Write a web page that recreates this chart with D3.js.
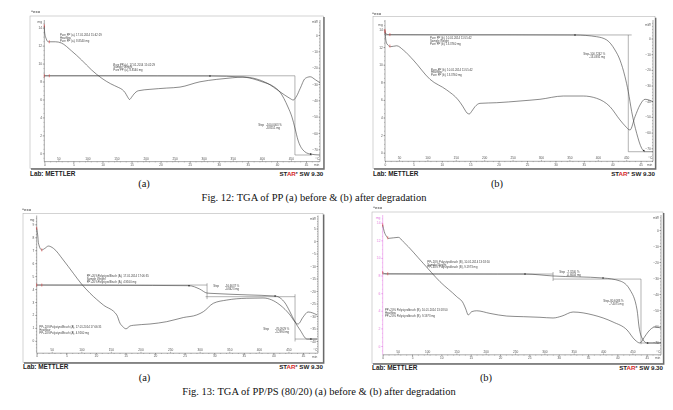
<!DOCTYPE html>
<html>
<head>
<meta charset="utf-8">
<script src="https://cdn.jsdelivr.net/npm/d3@7"></script>
<style>
    body { margin: 0; background: #fff; }
    svg { display: block; }
</style>
</head>
<body>
<div id="chart"></div>
<script>
// shared x tick labels (temperature row and time row)
const tempTicks = [50, 100, 150, 200, 250, 300, 350, 400, 450];
const timeTicks = [0, 5, 10, 15, 20, 25, 30, 35, 40, 45];

// Fig. 12 (a) - pure PP before degradation
const fig12aHeatT = [25.9, 26.6, 29, 32.8, 45, 55, 73, 90, 107, 125, 140, 153, 160, 165, 169, 172.5, 176, 180, 187.5, 207.6, 236.4, 259.2, 293.6, 322.3, 350, 367.5, 390, 408.8, 431.1, 448.3, 454, 460, 466, 474.6, 483.2, 492, 500];
const fig12aHeat = [14.2, 13.4, 12.8, 12.43, 12.43, 12.3, 11.4, 10.4, 9.3, 8.35, 7.75, 7.35, 7.1, 6.75, 6.3, 6.0, 6.25, 6.6, 6.97, 7.13, 7.27, 7.38, 7.97, 8.24, 8.42, 8.5, 8.3, 7.83, 6.86, 6.12, 5.94, 6.4, 7.24, 8.35, 8.53, 8.2, 7.86];
const fig12aTgaT = [25.9, 32, 120, 220, 310.8, 367.5, 401.9, 420, 431.1, 444.9, 451.8, 456.9, 462.1, 470.7, 482.7, 500];
const fig12aTga = [8.64, 8.64, 8.64, 8.63, 8.62, 8.5, 7.94, 7.45, 6.83, 5.16, 4.04, 2.82, 1.48, 0.37, -0.08, -0.19];
const fig12aSteps = [[[25.9, 8.64], [456.9, 8.64]], [[456.9, 8.64], [456.9, -0.19]], [[456.9, -0.19], [486, -0.19]]];
const fig12aMarks = [310.8, 484];

// Fig. 12 (b) - pure PP after degradation
const fig12bHeatT = [25.4, 26.5, 28.5, 35.4, 46, 57.6, 75.2, 104.6, 134, 154.4, 162, 166.2, 170, 173.8, 178, 183.8, 192.6, 222, 263, 298.2, 339.3, 374.5, 398, 421.5, 439.1, 448, 456.7, 465.5, 474.3, 483.1, 497.2];
const fig12bHeat = [13.9, 13.0, 12.4, 12.05, 12.15, 11.67, 10.53, 8.34, 7.13, 5.99, 5.3, 4.85, 4.5, 4.4, 4.7, 5.23, 5.61, 5.68, 5.875, 6.07, 6.44, 6.44, 6.18, 5.23, 3.72, 3.05, 2.58, 4.09, 5.42, 6.07, 5.8];
const fig12bTgaT = [25.4, 27, 32, 120, 240, 359.9, 398, 415.7, 430.3, 439.1, 447.9, 453.7, 459.7, 468.5, 477.3, 483.1, 497.2];
const fig12bTga = [13.7, 13.5, 13.42, 13.4, 13.4, 13.38, 13.18, 12.81, 11.67, 10.53, 8.64, 6.93, 4.66, 2.2, 0.5, 0.11, 0.11];
const fig12bSteps = [[[25.4, 13.38], [459.7, 13.38]], [[453.7, 13.38], [453.7, 0.11]], [[453.7, 0.11], [483.1, 0.11]]];
const fig12bMarks = [359.9, 481];

// Fig. 13 (a) - PP/PS 80/20 before degradation
const fig13aHeatT = [24.6, 26.8, 27.4, 33.1, 38.7, 44.3, 52.7, 69.6, 86.5, 100.7, 114.7, 137.2, 159.9, 165.4, 170, 175.6, 182.3, 187.9, 216.1, 244.3, 272.4, 295, 306.2, 323.1, 345.8, 379.6, 407.1, 435.8, 452.7, 461.2, 466.3, 475, 483.2, 498.4];
const fig13aHeat = [8.69, 7.92, 7.57, 7.02, 7.15, 7.32, 7.15, 6.24, 5.22, 4.37, 3.68, 2.77, 2.0, 1.36, 1.1, 0.93, 1.15, 1.2, 1.3, 1.48, 1.8, 2.0, 2.25, 2.9, 3.15, 3.29, 3.31, 2.77, 2.0, 1.46, 1.3, 1.85, 2.23, 2.0];
const fig13aTgaT = [24.6, 30, 120, 220, 282, 300, 312.5, 322.6, 380, 427.5, 444.4, 452, 461.2, 469.7, 481.5, 498.4];
const fig13aTga = [4.31, 4.31, 4.3, 4.28, 4.26, 4.0, 3.69, 3.66, 3.55, 3.46, 2.92, 2.3, 1.46, 0.84, 0.14, 0.14];
const fig13aSteps = [[[24.6, 4.31], [312.5, 4.31]], [[312.5, 4.45], [312.5, 3.22]], [[310, 3.41], [461.2, 3.41]], [[461.2, 3.6], [461.2, -0.05]], [[461.2, 0.14], [498.4, 0.14]]];
const fig13aMarks = [282, 427.5, 488];

// Fig. 13 (b) - PP/PS 80/20 after degradation
const fig13bHeatT = [24.4, 27, 31.3, 34, 51, 59.5, 93.6, 122.1, 150.6, 161.8, 166, 170.3, 176.1, 184.6, 207.3, 235.8, 264.1, 292.5, 314.8, 330, 348.9, 383, 417.1, 440.9, 454.5, 463, 470, 476.7, 488.6, 498.8];
const fig13bHeat = [13.73, 13.0, 12.41, 12.22, 12.34, 11.84, 9.38, 7.3, 5.6, 4.84, 4.2, 3.52, 3.9, 4.0, 3.7, 3.4, 3.33, 3.26, 3.18, 3.4, 3.86, 3.52, 2.72, 1.82, 0.68, 0.34, 0.95, 1.59, 2.16, 2.04];
const fig13bTgaT = [24.4, 30, 120, 220, 267, 314.8, 400, 429.1, 446.1, 458, 461.4, 466.5, 475, 498.8];
const fig13bTga = [8.32, 8.2, 8.18, 8.17, 8.17, 7.95, 7.72, 7.38, 6.36, 4.09, 2.16, 0.91, 0.34, 0.34];
const fig13bSteps = [[[24.4, 8.17], [314.8, 8.17]], [[314.8, 8.4], [314.8, 7.38]], [[314.8, 7.6], [464.7, 7.6]], [[464.7, 7.6], [464.7, 0.2]], [[464.7, 0.34], [498.8, 0.34]]];
const fig13bMarks = [267, 400, 476];

const SANS = "'Liberation Sans', Arial, sans-serif";
const SERIF = "'Liberation Serif', 'Times New Roman', serif";

const panels = [
    {
        heatT: fig12aHeatT, heat: fig12aHeat, tgaT: fig12aTgaT, tga: fig12aTga, steps: fig12aSteps, marks: fig12aMarks,
        frame: [30, 16, 323.3, 168.3], xL: 44.3, xR: 320, yTop: 20, axisY: 161.6,
        tDom: [25.9, 500], yDom: [0, 14], yRange: [153.3, 27.7], leftStep: 2, leftMinor: 0.5, mgY: 22,
        rDom: [-70, 0], rRange: [149.3, 35], rightStep: 10, rightMinor: 2, mwY: 22,
        exo: [31, 13], lab: 176, sub: { text: '(a)', x: 144, y: 186.5 },
        notes: [
            { x: 60, y: 35, lines: ['Pure PP (a), 17.01.2014 15:42:29', 'Heatflow', 'Pure PP (a), 8.8540 mg'] },
            { x: 113.3, y: 64.5, lines: ['Pure PP (a), 17.01.2014 15:42:29', 'Sample Weight', 'Pure PP (a), 8.8540 mg'] },
            { x: 258.3, y: 125, lines: ['Step'] },
            { x: 266, y: 125, lines: ['-100.0003 %', '-8.8551 mg'] }
        ]
    },
    {
        heatT: fig12bHeatT, heat: fig12bHeat, tgaT: fig12bTgaT, tga: fig12bTga, steps: fig12bSteps, marks: fig12bMarks,
        frame: [373, 16.7, 655, 168.3], xL: 385, xR: 653, yTop: 20, axisY: 161.3,
        tDom: [25.4, 497.2], yDom: [0, 14], yRange: [152.7, 29.5], leftStep: 2, leftMinor: 0.5, mgY: 24.5,
        rDom: [-70, 0], rRange: [148.3, 38.5], rightStep: 10, rightMinor: 2, mwY: 25,
        exo: [372, 15], lab: 176, sub: { text: '(b)', x: 497, y: 186.5 },
        notes: [
            { x: 430, y: 38.3, lines: ['Pure PP (b), 10.01.2014 11:55:42', 'Sample Weight', 'Pure PP (b), 13.3760 mg'] },
            { x: 431, y: 69.5, lines: ['Pure PP (b), 10.01.2014 11:55:42', 'Heatflow', 'Pure PP (b), 13.3760 mg'] },
            { x: 583.3, y: 54.3, lines: ['Step'] },
            { x: 589.3, y: 54.3, lines: ['-100.7242 %', '-13.4931 mg'] }
        ]
    },
    {
        heatT: fig13aHeatT, heat: fig13aHeat, tgaT: fig13aTgaT, tga: fig13aTga, steps: fig13aSteps, marks: fig13aMarks,
        frame: [23, 213.5, 323, 362.3], xL: 36.7, xR: 318, yTop: 215.5, axisY: 353.2,
        tDom: [24.6, 500], yDom: [-1, 9], yRange: [353.8, 224.3], leftStep: 1, leftMinor: 0.25, mgY: 219.5,
        rDom: [-40, 5], rRange: [341, 228.5], rightStep: 5, rightMinor: 1, mwY: 219,
        exo: [22, 210.5], lab: 368.5, sub: { text: '(a)', x: 144.5, y: 380.5 },
        notes: [
            { x: 86.7, y: 276, lines: ['PP+20%PolystyrolBruch (A), 17.01.2014 17:06:35', 'Sample Weight', 'PP+20%PolystyrolBruch (A), 4.9160 mg'] },
            { x: 39.3, y: 327, lines: ['PP+20%PolystyrolBruch (A), 17.01.2014 17:06:35', 'Heatflow', 'PP+20%PolystyrolBruch (A), 4.9160 mg'] },
            { x: 213.3, y: 285.7, lines: ['Step'] },
            { x: 225, y: 285.7, lines: ['-16.6637 %', '-0.8423 mg'] },
            { x: 263.3, y: 329, lines: ['Step'] },
            { x: 275, y: 329, lines: ['-76.0929 %', '-3.2990 mg'] }
        ]
    },
    {
        heatT: fig13bHeatT, heat: fig13bHeat, tgaT: fig13bTgaT, tga: fig13bTga, steps: fig13bSteps, marks: fig13bMarks,
        frame: [372, 212, 663, 363.3], xL: 382.7, xR: 661, yTop: 215, axisY: 354.8,
        tDom: [24.4, 498.8], yDom: [0, 14], yRange: [346, 222.7], leftStep: 2, leftMinor: 0.5, mgY: 217.5,
        rDom: [-70, 0], rRange: [342, 230], rightStep: 10, rightMinor: 2, mwY: 217.5,
        leftColor: '#e070e0',
        exo: [373, 209], lab: 369.5, sub: { text: '(b)', x: 486, y: 380.5 },
        notes: [
            { x: 427.3, y: 261.7, lines: ['PP+20% Polystyrolbruch (B), 10.01.2014 13:18:50', 'Sample Weight', 'PP+20% Polystyrolbruch (B), 9.1973 mg'] },
            { x: 385, y: 310, lines: ['PP+20% Polystyrolbruch (B), 10.01.2014 13:18:50', 'Heatflow', 'PP+20% Polystyrolbruch (B), 9.1973 mg'] },
            { x: 559.3, y: 271.7, lines: ['Step'] },
            { x: 566.7, y: 271.7, lines: ['-7.3240 %', '-0.6604 mg'] },
            { x: 603.3, y: 300.7, lines: ['Step'] },
            { x: 609.3, y: 300.7, lines: ['-80.6083 %', '-7.4075 mg'] }
        ]
    }
];

const captions = [
    { text: 'Fig. 12: TGA of PP (a) before & (b) after degradation', x: 314, y: 200.5 },
    { text: 'Fig. 13: TGA of PP/PS (80/20) (a) before & (b) after degradation', x: 319, y: 394.5 }
];

const svg = d3.select('#chart')
    .append('svg')
    .attr('width', 673)
    .attr('height', 410);

// grey filter keeps tiny labels from getting coloured fringes
svg.append('defs')
    .append('filter')
    .attr('id', 'grey')
    .append('feColorMatrix')
    .attr('type', 'saturate')
    .attr('values', 0);

svg.append('rect').attr('width', 673).attr('height', 410).attr('fill', '#fff');

// value of a curve at temperature t (linear between read points)
function valueAt(ts, vs, t) {
    const i = d3.bisectLeft(ts, t);
    if (i <= 0) return vs[0];
    if (i >= ts.length) return vs[vs.length - 1];
    const f = (t - ts[i - 1]) / (ts[i] - ts[i - 1]);
    return vs[i - 1] + (vs[i] - vs[i - 1]) * f;
}

function styleAxis(g, color) {
    g.select('.domain').remove();
    g.selectAll('line').attr('stroke', color).attr('stroke-width', 0.4);
    g.selectAll('text')
        .attr('font-family', SANS)
        .attr('font-size', 3.2)
        .attr('fill', color);
}

function drawPanel(p) {
    const g = svg.append('g');
    const [fx0, fy0, fx1, fy1] = p.frame;

    // frame with darker right / bottom edge
    g.append('rect')
        .attr('x', fx0).attr('y', fy0)
        .attr('width', fx1 - fx0).attr('height', fy1 - fy0)
        .attr('fill', '#fff')
        .attr('stroke', '#a8a8a8')
        .attr('stroke-width', 0.5);
    g.append('path')
        .attr('d', `M${fx1 + 0.7},${fy0 + 1}V${fy1 + 0.7}H${fx0 + 1}`)
        .attr('fill', 'none')
        .attr('stroke', '#6a6a6a')
        .attr('stroke-width', 1.4);

    const x = d3.scaleLinear().domain(p.tDom).range([p.xL, p.xR]);
    const tm = d3.scaleLinear().domain([0, (p.tDom[1] - p.tDom[0]) / 10]).range([p.xL, p.xR]);
    const y = d3.scaleLinear().domain(p.yDom).range(p.yRange);
    const yr = d3.scaleLinear().domain(p.rDom).range(p.rRange);
    const leftColor = p.leftColor || '#555';

    const grey = g.append('g').attr('filter', 'url(#grey)');
    const leftG = p.leftColor ? g.append('g') : grey;

    // axis lines
    leftG.append('line').attr('x1', p.xL).attr('x2', p.xL).attr('y1', p.yTop).attr('y2', p.axisY)
        .attr('stroke', leftColor).attr('stroke-width', 0.5);
    grey.append('line').attr('x1', p.xR).attr('x2', p.xR).attr('y1', p.yTop).attr('y2', p.axisY)
        .attr('stroke', '#555').attr('stroke-width', 0.5);
    grey.append('line').attr('x1', p.xL).attr('x2', p.xR).attr('y1', p.axisY).attr('y2', p.axisY)
        .attr('stroke', '#555').attr('stroke-width', 0.5);

    // left axis (sample weight)
    const lo = y.invert(p.axisY), hi = y.invert(p.yTop);
    const leftTicks = d3.range(Math.ceil(lo / p.leftStep) * p.leftStep, hi + 1e-6, p.leftStep);
    const leftMinor = d3.range(Math.ceil(lo / p.leftMinor) * p.leftMinor, hi, p.leftMinor);
    const la = leftG.append('g').attr('transform', `translate(${p.xL},0)`)
        .call(d3.axisLeft(y).tickValues(leftTicks).tickSize(1.6).tickPadding(0.7).tickFormat(d3.format('d')));
    styleAxis(la, leftColor);
    const lm = leftG.append('g').attr('transform', `translate(${p.xL},0)`)
        .call(d3.axisLeft(y).tickValues(leftMinor).tickSize(0.8).tickFormat(''));
    styleAxis(lm, leftColor);
    leftG.append('text').attr('x', p.xL - 2.3).attr('y', p.mgY + 1)
        .attr('text-anchor', 'end').attr('font-family', SANS).attr('font-size', 3.2)
        .attr('fill', leftColor).text('mg');

    // right axis (heat flow), labels sit inside the plot
    const rlo = yr.invert(p.axisY), rhi = yr.invert(p.yTop + 6);
    const rightTicks = d3.range(Math.ceil(rlo / p.rightStep) * p.rightStep, rhi + 1e-6, p.rightStep);
    const rightMinor = d3.range(Math.ceil(rlo / p.rightMinor) * p.rightMinor, yr.invert(p.yTop), p.rightMinor);
    const ra = grey.append('g').attr('transform', `translate(${p.xR},0)`)
        .call(d3.axisLeft(yr).tickValues(rightTicks).tickSize(1.6).tickPadding(0.7).tickFormat(d3.format('d')));
    styleAxis(ra, '#555');
    const rm = grey.append('g').attr('transform', `translate(${p.xR},0)`)
        .call(d3.axisLeft(yr).tickValues(rightMinor).tickSize(0.8).tickFormat(''));
    styleAxis(rm, '#555');
    grey.append('text').attr('x', p.xR - 2.3).attr('y', p.mwY + 1)
        .attr('text-anchor', 'end').attr('font-family', SANS).attr('font-size', 3.2)
        .attr('fill', '#555').text('mW');

    // temperature row above the axis line, time row below
    const ta = grey.append('g').attr('transform', `translate(0,${p.axisY})`)
        .call(d3.axisTop(x).tickValues(tempTicks).tickSize(1.4).tickPadding(0.6));
    styleAxis(ta, '#555');
    const tb = grey.append('g').attr('transform', `translate(0,${p.axisY})`)
        .call(d3.axisBottom(tm).tickValues(timeTicks).tickSize(1.4).tickPadding(0.6));
    styleAxis(tb, '#555');
    const tbm = grey.append('g').attr('transform', `translate(0,${p.axisY})`)
        .call(d3.axisBottom(tm).tickValues(d3.range(0, tm.domain()[1], 1)).tickSize(0.8).tickFormat(''));
    styleAxis(tbm, '#555');
    grey.append('text').attr('x', p.xR - 0.8).attr('y', p.axisY - 2)
        .attr('text-anchor', 'end').attr('font-family', SANS).attr('font-size', 3.2)
        .attr('fill', '#555').text('°C');
    grey.append('text').attr('x', p.xR - 0.8).attr('y', p.axisY + 4.3)
        .attr('text-anchor', 'end').attr('font-family', SANS).attr('font-size', 3.2)
        .attr('fill', '#555').text('min');

    // evaluation lines
    const seg = d3.line().x(d => x(d[0])).y(d => y(d[1]));
    g.selectAll('path.step')
        .data(p.steps)
        .join('path')
        .classed('step', true)
        .attr('d', seg)
        .attr('fill', 'none')
        .attr('stroke', '#555')
        .attr('stroke-width', 0.45);

    // curves
    const line = d3.line().x(d => x(d[0])).y(d => y(d[1])).curve(d3.curveMonotoneX);
    g.append('path')
        .datum(d3.zip(p.heatT, p.heat))
        .attr('d', line)
        .attr('fill', 'none')
        .attr('stroke', '#3c3c3c')
        .attr('stroke-width', 0.6);
    g.append('path')
        .datum(d3.zip(p.tgaT, p.tga))
        .attr('d', line)
        .attr('fill', 'none')
        .attr('stroke', '#3c3c3c')
        .attr('stroke-width', 0.6);

    // red start markers on both curves
    const redT = [p.tDom[0], p.tDom[0] + 8.6];
    [[p.heatT, p.heat], [p.tgaT, p.tga]].forEach(([ts, vs]) => {
        redT.forEach(t => {
            const v = valueAt(ts, vs, t);
            g.append('line')
                .attr('x1', x(t)).attr('x2', x(t))
                .attr('y1', y(v) - 1.5).attr('y2', y(v) + 1.5)
                .attr('stroke', '#e03a3a').attr('stroke-width', 0.6);
        });
    });

    // evaluation limit markers on the weight curve
    g.selectAll('circle.mark')
        .data(p.marks)
        .join('circle')
        .classed('mark', true)
        .attr('cx', d => x(d))
        .attr('cy', d => y(valueAt(p.tgaT, p.tga, d)))
        .attr('r', 0.8)
        .attr('fill', '#222');

    // small annotation blocks
    p.notes.forEach(n => {
        const t = grey.append('text')
            .attr('font-family', SANS)
            .attr('font-size', 2.8)
            .attr('fill', '#444');
        n.lines.forEach((s, i) => {
            t.append('tspan').attr('x', n.x).attr('y', n.y + 1 + i * 2.8).text(s);
        });
    });

    // header and footer texts
    grey.append('text').attr('x', p.exo[0]).attr('y', p.exo[1])
        .attr('font-family', SANS).attr('font-size', 4.4).attr('fill', '#333').text('^exo');
    g.append('text').attr('x', fx0).attr('y', p.lab)
        .attr('font-family', SANS).attr('font-size', 6.4).attr('font-weight', 'bold')
        .attr('fill', '#222').text('Lab: METTLER');
    const star = g.append('text').attr('x', fx1).attr('y', p.lab)
        .attr('text-anchor', 'end')
        .attr('font-family', SANS).attr('font-size', 6.2).attr('font-weight', 'bold')
        .attr('fill', '#222');
    star.append('tspan').text('ST');
    star.append('tspan').attr('fill', '#d42a2a').text('AR');
    star.append('tspan').attr('font-size', 3.6).attr('dy', -2).text('e');
    star.append('tspan').attr('dy', 2).text(' SW 9.30');

    g.append('text').attr('x', p.sub.x).attr('y', p.sub.y)
        .attr('text-anchor', 'middle')
        .attr('font-family', SERIF).attr('font-size', 10.5)
        .attr('fill', '#111').text(p.sub.text);
}

panels.forEach(drawPanel);

svg.selectAll('text.caption')
    .data(captions)
    .join('text')
    .classed('caption', true)
    .attr('x', d => d.x)
    .attr('y', d => d.y)
    .attr('text-anchor', 'middle')
    .attr('font-family', SERIF)
    .attr('font-size', 10.5)
    .attr('fill', '#111')
    .text(d => d.text);
</script>
</body>
</html>
